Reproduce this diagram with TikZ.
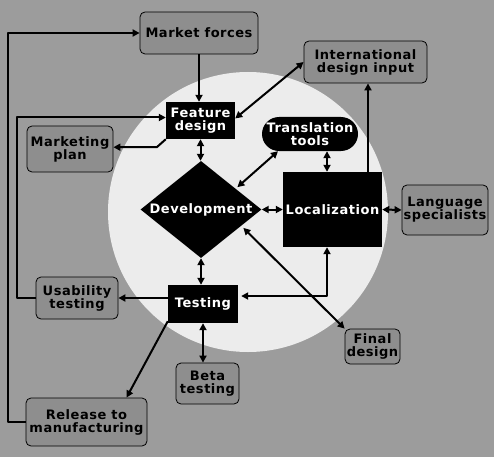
\documentclass[tikz,border=0pt]{standalone}
\usepackage{fontspec}
\setmainfont{DejaVu Sans}[LetterSpace=4]
\usetikzlibrary{arrows.meta,shapes.geometric}
\definecolor{bggray}{RGB}{156,156,156}
\definecolor{boxgray}{RGB}{142,142,142}
\definecolor{discwhite}{RGB}{236,236,236}
\tikzset{
  greybox/.style={draw=black,line width=0.8pt,fill=boxgray,rounded corners=5pt,
    align=center,inner sep=1pt},
  blackbox/.style={fill=black,text=white,align=center,inner sep=1pt},
  link/.style={line width=2pt}
}
\begin{document}
\begin{tikzpicture}[x=1pt,y=-1pt,line join=round,>={Triangle[length=7pt,width=7pt]},
  font=\fontsize{13}{13}\selectfont\bfseries]

  % Nền và hình tròn
  \fill[bggray] (0,0) rectangle (494,457);
  \useasboundingbox (0,0) rectangle (494,457);
  \fill[discwhite] (248,212) circle (140);

  % Các ô xám
  \node[greybox,minimum width=118,minimum height=42] (mf) at (199,33) {Market forces};
  \node[greybox,minimum width=123,minimum height=42] (idi) at (365.5,62) {International\\design input};
  \node[greybox,minimum width=86,minimum height=46] (mp) at (70,149) {Marketing\\plan};
  \node[greybox,minimum width=86,minimum height=50] (ls) at (445,210) {Language\\specialists};
  \node[greybox,minimum width=82,minimum height=42] (ut) at (77,298) {Usability\\testing};
  \node[greybox,minimum width=63,minimum height=41] (bt) at (207.5,383.5) {Beta\\testing};
  \node[greybox,minimum width=121,minimum height=48] (rm) at (86.5,422) {Release to\\manufacturing};
  \node[greybox,minimum width=55,minimum height=35] (fin) at (372.5,346.5) {Final\\design};

  % Các ô đen
  \node[blackbox,minimum width=69,minimum height=37] (fd) at (200.5,120.5) {Feature\\design};
  \node[blackbox,rounded corners=17pt,minimum width=96,minimum height=34] (tt) at (310,134) {Translation\\tools};
  \node[blackbox,shape=diamond,aspect=1.25,inner sep=0pt,minimum width=121,minimum height=97] (dev) at (201,209.5) {Development};
  \node[blackbox,minimum width=99,minimum height=75] (loc) at (332.5,209.5) {Localization};
  \node[blackbox,minimum width=70,minimum height=38] (tst) at (203,304) {Testing};

  % Mũi tên
  \draw[link,->] (rm.west) -- ++(-18,0) |- (mf.west);
  \draw[link,->] (ut.west) -- ++(-19,0) |- ([yshift=3pt]fd.west);
  \draw[link,->] (mf.south) -- (mf.south |- fd.north);
  \draw[link,->] (fd.south west) -- ++(-9,8) coordinate (k) -- (k -| mp.east);
  \draw[link,<->] (fd.south) -- (fd.south |- dev.north);
  \draw[link,<->] ([yshift=2pt]fd.east) -- (idi.west);
  \draw[link,<->] ([xshift=6pt,yshift=-2pt]dev.north east) -- ([xshift=-32pt]tt.south);
  \draw[link,<->] ([xshift=17pt]tt.south) -- ([xshift=17pt]tt.south |- loc.north);
  \draw[link,->] ([xshift=35.5pt]loc.north) -- ([xshift=35.5pt]loc.north |- idi.south);
  \draw[link,<->] (dev.east) -- (loc.west);
  \draw[link,<->] (loc.east) -- (ls.west);
  \draw[link,<->] (dev.south) -- (dev.south |- tst.north);
  \draw[link,->] (ut.east -| tst.west) -- (ut.east);
  \draw[link,<->] ([xshift=-5.5pt]loc.south) |- ([xshift=3pt,yshift=2pt]tst.east |- ut.east);
  \draw[link,->] ([yshift=2pt]tst.south west) -- ([xshift=40pt]rm.north);
  \draw[link,<->] (tst.south) -- (tst.south |- bt.north);
  \draw[link,<->] ([xshift=12pt,yshift=6pt]dev.south east) -- (fin.north west);

\end{tikzpicture}
\end{document}
